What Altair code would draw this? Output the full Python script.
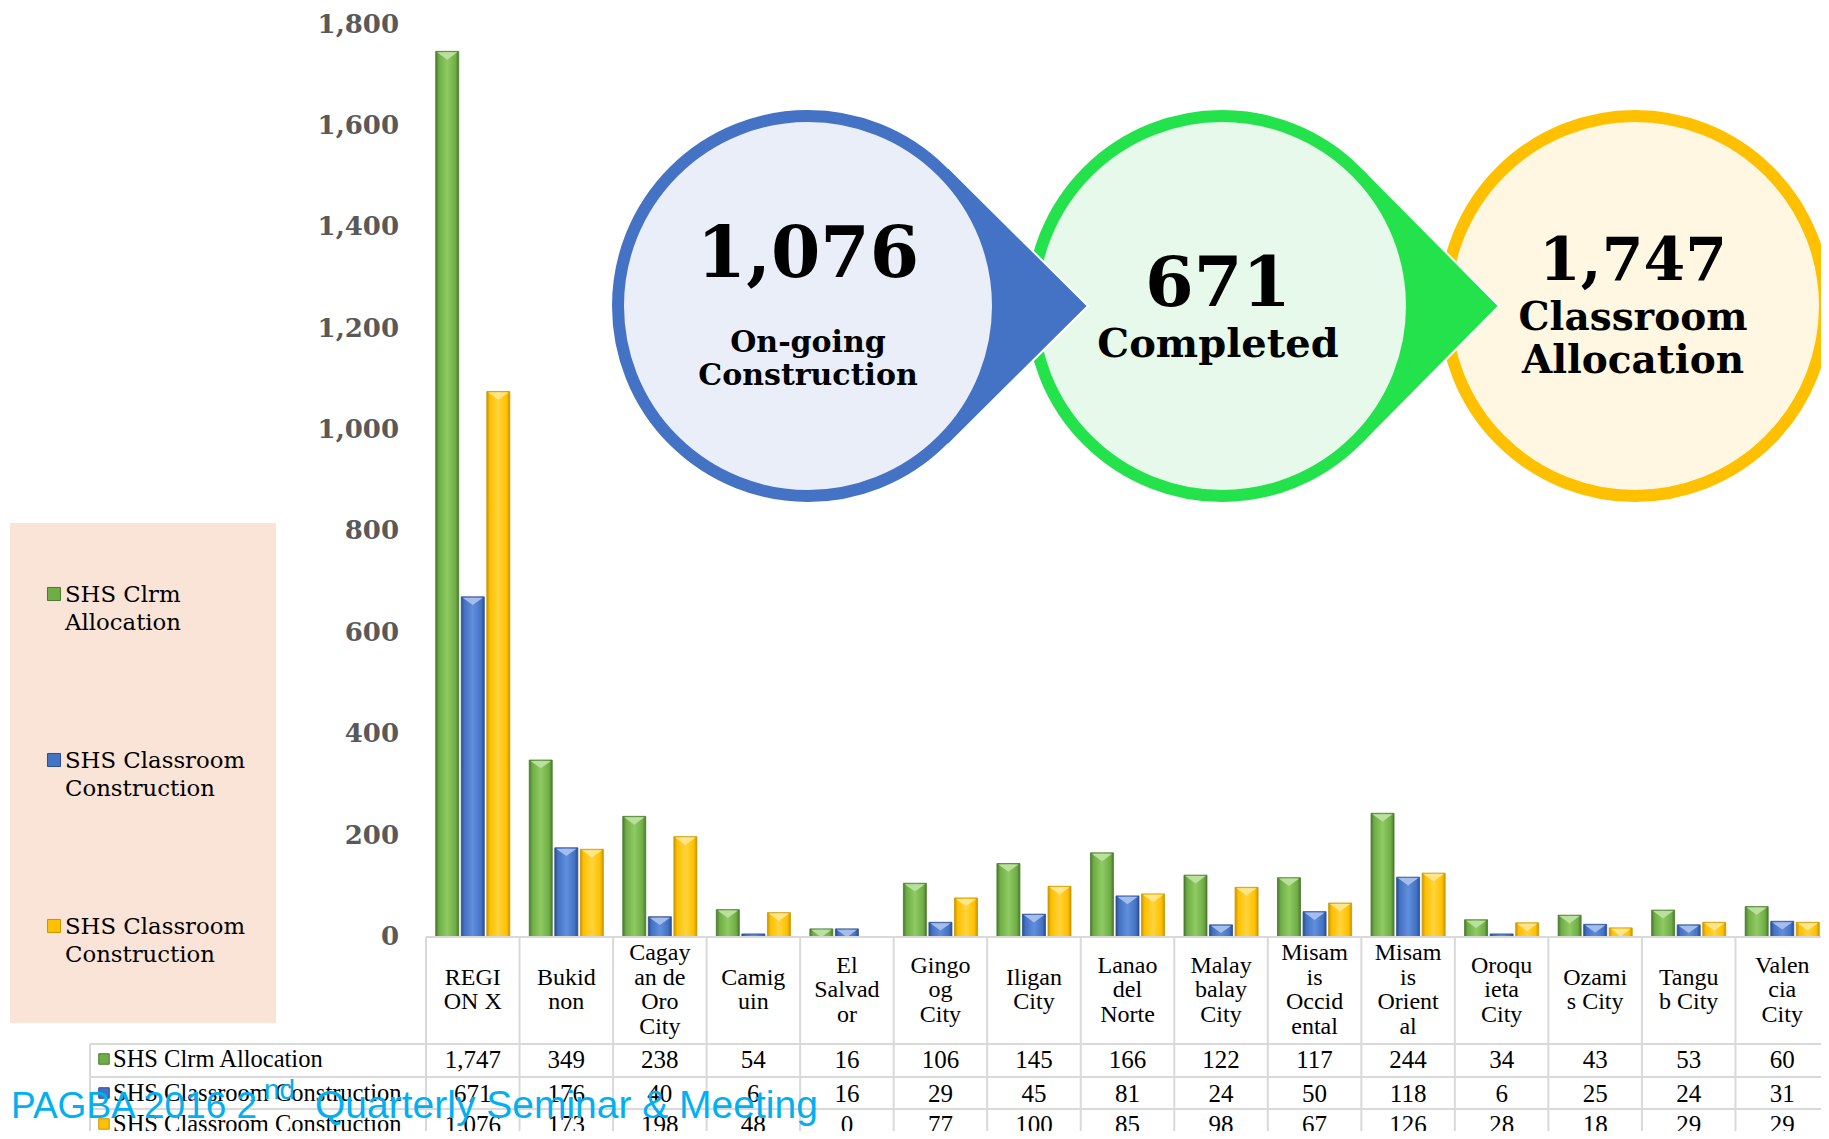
import altair as alt
import pandas as pd

# ---------------- data ----------------
categories = ["REGION X", "Bukidnon", "Cagayan de Oro City", "Camiguin", "El Salvador",
              "Gingoog City", "Iligan City", "Lanao del Norte", "Malaybalay City",
              "Misamis Occidental", "Misamis Oriental", "Oroquieta City", "Ozamis City",
              "Tangub City", "Valencia City"]
category_labels = ["REGI\nON X", "Bukid\nnon", "Cagay\nan de\nOro\nCity", "Camig\nuin",
                   "El\nSalvad\nor", "Gingo\nog\nCity", "Iligan\nCity", "Lanao\ndel\nNorte",
                   "Malay\nbalay\nCity", "Misam\nis\nOccid\nental", "Misam\nis\nOrient\nal",
                   "Oroqu\nieta\nCity", "Ozami\ns City", "Tangu\nb City", "Valen\ncia\nCity"]
allocation = [1747, 349, 238, 54, 16, 106, 145, 166, 122, 117, 244, 34, 43, 53, 60]
completed = [671, 176, 40, 6, 16, 29, 45, 81, 24, 50, 118, 6, 25, 24, 31]
ongoing = [1076, 173, 198, 48, 0, 77, 100, 85, 98, 67, 126, 28, 18, 29, 29]
series_keys = ["alloc", "done", "ongoing"]
series_names = ["SHS Clrm Allocation", "SHS Classroom Construction", "SHS Classroom Construction"]
legend_names = ["SHS Clrm\nAllocation", "SHS Classroom\nConstruction", "SHS Classroom\nConstruction"]
y_ticks = [0, 200, 400, 600, 800, 1000, 1200, 1400, 1600, 1800]
callout_numbers = ["1,076", "671", "1,747"]
callout_captions = ["On-going\nConstruction", "Completed", "Classroom\nAllocation"]
footer_parts = ["PAGBA 2016 2", "nd", "Quarterly Seminar & Meeting"]

# ---------------- layout helpers ----------------
def cx(v):
    """reference pixel -> chart pixel (page margin 8)"""
    return v - 8

W, H = 1813, 1123
GRID = "#D9D9D9"
TABLE_FONT = "Liberation Serif"
SERIF = "DejaVu Serif"

palette = {
    "alloc":   dict(base="#70AD47", light="#8FCB62", dark="#4A7A2C", tip="#B9E09C"),
    "done":    dict(base="#4472C4", light="#618EDC", dark="#2C4F8F", tip="#A4BDEB"),
    "ongoing": dict(base="#FFC000", light="#FFD43C", dark="#C99600", tip="#FFE68A"),
}

bars_df = pd.DataFrame({
    "category": categories * 3,
    "series": [k for k in series_keys for _ in categories],
    "value": allocation + completed + ongoing,
})
cats_df = pd.DataFrame({"category": categories, "label": category_labels})
cats_df["nlines"] = [lab.count("\n") + 1 for lab in category_labels]
ticks_df = pd.DataFrame({"tick": y_ticks})

x_scale = alt.Scale(domain=categories, range=[cx(426), cx(1829)], paddingInner=0, paddingOuter=0)
y_scale = alt.Scale(domain=[0, 1800], range=[cx(937), cx(24.5)], nice=False)
off_scale = alt.Scale(domain=series_keys, paddingInner=0.1, paddingOuter=0.38)

X = alt.X("category:N", scale=x_scale, axis=None)
XO = alt.XOffset("series:N", scale=off_scale)
Y = alt.Y("value:Q", scale=y_scale, axis=None)

one = pd.DataFrame({"k": [0]})
layers = []

# ---------------- bars ----------------
for key in series_keys:
    p = palette[key]
    grad = alt.Gradient(
        gradient="linear", x1=0, x2=1, y1=0, y2=0,
        stops=[alt.GradientStop(color=p["dark"], offset=0),
               alt.GradientStop(color=p["base"], offset=0.14),
               alt.GradientStop(color=p["light"], offset=0.5),
               alt.GradientStop(color=p["base"], offset=0.86),
               alt.GradientStop(color=p["dark"], offset=1)])
    layers.append(
        alt.Chart(bars_df)
        .transform_filter(f"datum.series == '{key}' && datum.value > 0")
        .mark_bar(fill=grad, stroke=p["dark"], strokeWidth=1, strokeOpacity=0.8)
        .encode(x=X, xOffset=XO, y=Y)
    )
    layers.append(
        alt.Chart(bars_df)
        .transform_filter(f"datum.series == '{key}' && datum.value >= 16")
        .mark_point(shape="M -0.88 0.08 L 0.88 0.08 L 0 0.72 Z", size=23 * 23,
                    filled=True, color=p["tip"], opacity=1)
        .encode(x=X, xOffset=XO, y=Y)
    )

# ---------------- y tick labels ----------------
layers.append(
    alt.Chart(ticks_df)
    .mark_text(align="right", baseline="middle", font=SERIF, fontSize=26,
               fontWeight="bold", color="#595959")
    .encode(y=alt.Y("tick:Q", scale=y_scale, axis=None), x=alt.value(cx(399)),
            text=alt.Text("tick:Q", format=","))
)

# ---------------- table grid ----------------
layers.append(
    alt.Chart(cats_df).mark_rule(color=GRID, strokeWidth=2)
    .encode(x=alt.X("category:N", scale=x_scale, axis=None, bandPosition=0),
            y=alt.value(cx(937)), y2=alt.value(H + 10))
)
layers.append(
    alt.Chart(one).mark_rule(color=GRID, strokeWidth=2)
    .encode(x=alt.value(cx(90)), y=alt.value(cx(1044)), y2=alt.value(H + 10))
)
for yy, x1 in [(937, 426), (1044, 90), (1077, 90), (1109, 90)]:
    layers.append(
        alt.Chart(one).mark_rule(color=GRID, strokeWidth=2)
        .encode(x=alt.value(cx(x1)), x2=alt.value(W + 10), y=alt.value(cx(yy)))
    )

# header labels (multi-line, centred vertically in the header cell)
HEAD_LH = 24.5
for n in sorted(set(cats_df["nlines"])):
    layers.append(
        alt.Chart(cats_df)
        .transform_filter(f"datum.nlines == {n}")
        .mark_text(font=TABLE_FONT, fontSize=24, lineHeight=HEAD_LH, baseline="middle",
                   align="center", color="black", lineBreak="\n")
        .encode(x=X, y=alt.value(cx(990 - (n - 1) * HEAD_LH / 2)), text="label:N")
    )

# value rows + row labels
row_y = [1060, 1094, 1125]
for i, key in enumerate(series_keys):
    layers.append(
        alt.Chart(bars_df)
        .transform_filter(f"datum.series == '{key}'")
        .mark_text(font=TABLE_FONT, fontSize=25, baseline="middle", align="center", color="black")
        .encode(x=X, y=alt.value(cx(row_y[i])), text=alt.Text("value:Q", format=","))
    )
    lab = pd.DataFrame({"name": [series_names[i]]})
    layers.append(
        alt.Chart(lab)
        .mark_text(font=TABLE_FONT, fontSize=24.5, baseline="middle", align="left", color="black")
        .encode(x=alt.value(cx(113)), y=alt.value(cx(row_y[i])), text="name:N")
    )
    layers.append(
        alt.Chart(lab)
        .mark_square(size=110, filled=True, color=palette[key]["base"], opacity=1,
                     stroke=palette[key]["dark"], strokeWidth=1)
        .encode(x=alt.value(cx(104)), y=alt.value(cx(row_y[i] - 1)))
    )

# ---------------- legend box ----------------
layers.append(
    alt.Chart(one).mark_rect(color="#FAE4D7")
    .encode(x=alt.value(cx(10)), x2=alt.value(cx(276)), y=alt.value(cx(523)), y2=alt.value(cx(1023)))
)
leg_baseline = [602, 768, 934]
for i, key in enumerate(series_keys):
    lab = pd.DataFrame({"name": [legend_names[i]]})
    layers.append(
        alt.Chart(lab)
        .mark_text(font=SERIF, fontSize=22.8, lineHeight=27.5, baseline="alphabetic",
                   align="left", color="black", lineBreak="\n")
        .encode(x=alt.value(cx(65)), y=alt.value(cx(leg_baseline[i])), text="name:N")
    )
    layers.append(
        alt.Chart(lab)
        .mark_square(size=170, filled=True, color=palette[key]["base"], opacity=1,
                     stroke=palette[key]["dark"], strokeWidth=1)
        .encode(x=alt.value(cx(54)), y=alt.value(cx(leg_baseline[i] - 8)))
    )

# ---------------- call-out circles ----------------
CIRC = (380) ** 2
def circle(cxp, cyp, fill, stroke):
    return (alt.Chart(one)
            .mark_point(shape="circle", size=CIRC, filled=False, fill=fill, stroke=stroke,
                        strokeWidth=12, opacity=1, fillOpacity=1)
            .encode(x=alt.value(cx(cxp)), y=alt.value(cx(cyp))))

def pointer(tipx, tipy, h, w, color):
    u = w / (h / 2)
    return (alt.Chart(one)
            .mark_point(shape=f"M {-u:.4f} -1 L 0 0 L {-u:.4f} 1 Z", size=h * h, filled=True,
                        color=color, opacity=1, stroke="white", strokeWidth=2, strokeOpacity=1)
            .encode(x=alt.value(cx(tipx)), y=alt.value(cx(tipy))))

layers.append(circle(1635, 306, "#FFF7E2", "#FFC000"))
layers.append(pointer(1499, 306, 277, 137, "#23E24B"))
layers.append(circle(1222, 306, "#E6F9EA", "#23E24B"))
layers.append(pointer(1088, 306, 280, 141, "#4472C4"))
layers.append(circle(808, 306, "#EAEEF8", "#4472C4"))

def ctext(txt, x, y, size, lh=None):
    d = pd.DataFrame({"t": [txt]})
    kw = dict(font=SERIF, fontSize=size, fontWeight="bold", align="center",
              baseline="alphabetic", color="black", lineBreak="\n")
    if lh:
        kw["lineHeight"] = lh
    return alt.Chart(d).mark_text(**kw).encode(x=alt.value(cx(x)), y=alt.value(cx(y)), text="t:N")

layers.append(ctext(callout_numbers[0], 808, 277, 71))
layers.append(ctext(callout_captions[0], 808, 352, 30, 33))
layers.append(ctext(callout_numbers[1], 1218, 306, 70))
layers.append(ctext(callout_captions[1], 1218, 357, 40))
layers.append(ctext(callout_numbers[2], 1633, 280, 60))
layers.append(ctext(callout_captions[2], 1633, 330, 39, 43))

# ---------------- footer ----------------
FOOT = "Liberation Sans, Arial, sans-serif"
def ftext(txt, x, y, size):
    d = pd.DataFrame({"t": [txt]})
    return (alt.Chart(d)
            .mark_text(font=FOOT, fontSize=size, align="left", baseline="alphabetic", color="#00B0F0")
            .encode(x=alt.value(cx(x)), y=alt.value(cx(y)), text="t:N"))

layers.append(ftext(footer_parts[0], 11, 1118, 37))
layers.append(ftext(footer_parts[1], 264, 1099, 28))
layers.append(ftext(footer_parts[2], 315, 1118, 39))

chart = (
    alt.layer(*layers)
    .properties(width=W, height=H, padding=0, autosize=alt.AutoSizeParams(type="none"))
    .configure_view(stroke=None)
)
chart.save("out.html", embed_options={"renderer": "svg", "actions": False})
